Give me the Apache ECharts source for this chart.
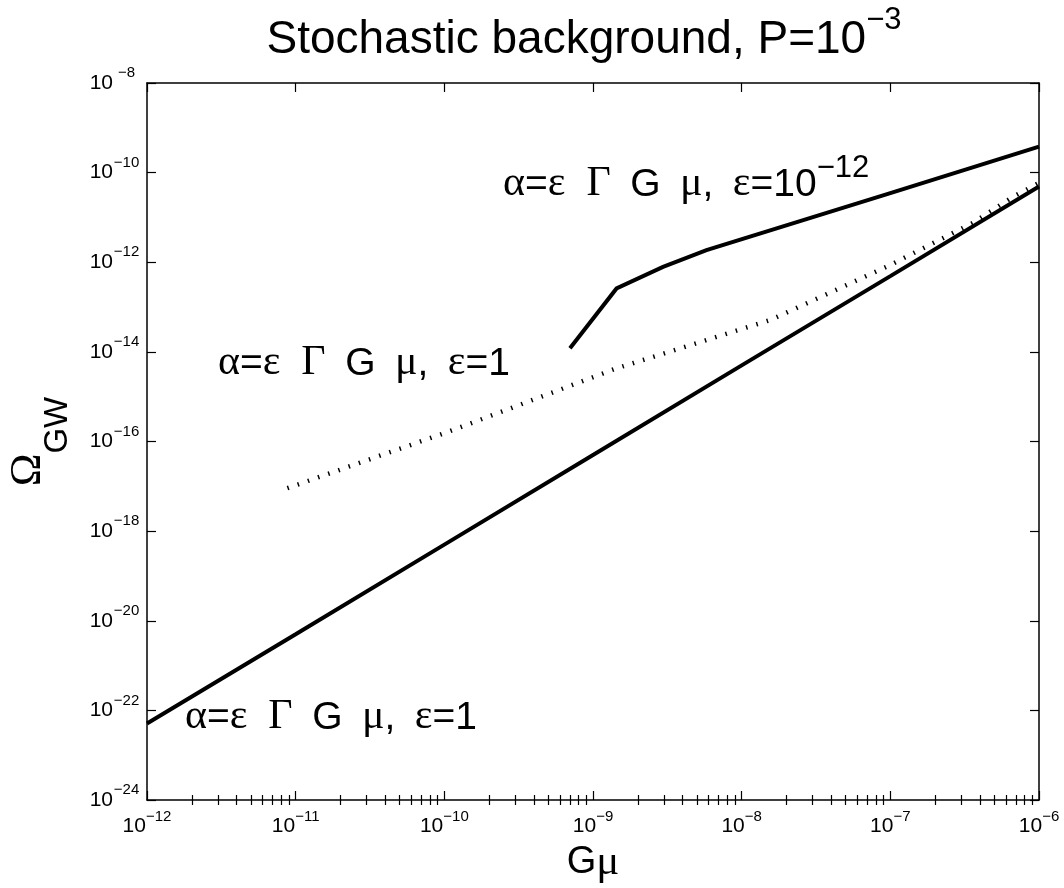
<!DOCTYPE html>
<html><head><meta charset="utf-8">
<script src="https://cdn.jsdelivr.net/npm/echarts@6/dist/echarts.min.js"></script>
<style>html,body{margin:0;padding:0;background:#fff}#c{width:1064px;height:888px}</style>
</head><body><div id="c"></div>
<script>
// ---- tick exponents ----
const xTickExps = [-12, -11, -10, -9, -8, -7, -6];
const yTickExps = [-24, -22, -20, -18, -16, -14, -12, -10, -8];

// ---- series: alpha = eps Gamma G mu, eps = 1 (solid, lower) ----
const lowerGmu   = [1e-12, 1e-11, 1e-10, 1e-9, 1e-8, 1e-7, 1e-6];
const lowerOmega = [5.1e-23, 5.0e-21, 5.0e-19, 5.0e-17, 5.0e-15, 4.9e-13, 4.9e-11];

// ---- series: eps = 1e-12 (solid, upper) ----
const upperGmu   = [7.0e-10, 1.44e-9, 2.96e-9, 5.8e-9, 1e-7, 1e-6];
const upperOmega = [1.2e-14, 2.6e-13, 7.9e-13, 1.86e-12, 3.5e-11, 3.8e-10];

// ---- series: eps = 1 (dotted) ----
const dotGmu   = [8.8e-12, 1.09e-10, 1.44e-9, 1.55e-8, 1e-7, 3.6e-7, 6.7e-7, 1e-6];
const dotOmega = [9.1e-18, 1.7e-16, 4.3e-15, 5.1e-14, 8.7e-13, 7.6e-12, 2.9e-11, 5.9e-11];

// ---- annotations (left / bottom anchor in data space) ----
const annoText = ['eps12', 'eps1', 'eps1'];
const annoGmu = [2.48e-10, 3.0e-12, 1.8e-12];
const annoOmega = [1.94e-11, 1.96e-15, 2.45e-23];

const title = 'Stochastic background, P=10';
const titleExp = '\u22123';

function zip(a, b) { return a.map((v, i) => [v, b[i]]); }
const xMajor = xTickExps.map(e => Math.pow(10, e));
const yMajor = yTickExps.map(e => Math.pow(10, e));
const xMinor = [];
for (let e = -12; e < -6; e++) for (let k = 2; k <= 9; k++) xMinor.push(k * Math.pow(10, e));

const SANS = 'Liberation Sans', SERIF = 'Liberation Serif';
function expLabel(v) {
  const e = Math.round(Math.log10(v));
  return '{b|10}{s|' + (e < 0 ? '\u2212' : '') + Math.abs(e) + '}';
}
const tickRichY = {
  b: {fontFamily: SANS, fontSize: 21, lineHeight: 21, verticalAlign: 'bottom', color: '#000'},
  s: {fontFamily: SANS, fontSize: 15, lineHeight: 28, verticalAlign: 'top', color: '#000', width: 27, align: 'left'}
};
const tickRichX = {
  b: {fontFamily: SANS, fontSize: 21, lineHeight: 21, verticalAlign: 'bottom', color: '#000'},
  s: {fontFamily: SANS, fontSize: 15, lineHeight: 28, verticalAlign: 'top', color: '#000'}
};
const axisLine = {show: true, onZero: false, lineStyle: {color: '#000', width: 1.5}};
const majorTick = {show: true, inside: true, length: 9, lineStyle: {color: '#000', width: 1.2}};
const minorTickS = {show: true, inside: true, length: 5, lineStyle: {color: '#000', width: 1.2}};

const chart = echarts.init(document.getElementById('c'), null, {renderer: 'canvas'});
const base = {type: 'log', logBase: 10, splitLine: {show: false}, minorTick: {show: false}, nameMoveOverlap: false};
const xExt = {min: 1e-12, max: 1e-6};
const yExt = {min: 1e-24, max: 1e-8};

const option = {
  backgroundColor: '#fff',
  animation: false,
  grid: {left: 147, right: 25, top: 83, bottom: 88, containLabel: false, outerBoundsMode: 'none'},
  xAxis: [
    Object.assign({}, base, xExt, {position: 'bottom', axisLine,
      axisTick: Object.assign({customValues: xMajor}, majorTick),
      axisLabel: {customValues: xMajor, formatter: expLabel, rich: tickRichX, margin: 9},
      name: '{a|G}{g|\u03bc}', nameLocation: 'middle', nameGap: 45,
      nameTextStyle: {rich: {a: {fontFamily: SANS, fontSize: 38, lineHeight: 36, color: '#000'},
                             g: {fontFamily: SERIF, fontSize: 43, lineHeight: 36, color: '#000'}}}}),
    Object.assign({}, base, xExt, {position: 'bottom', axisLine: {show: false},
      axisTick: Object.assign({customValues: xMinor}, minorTickS), axisLabel: {show: false}}),
    Object.assign({}, base, xExt, {position: 'top', axisLine,
      axisTick: Object.assign({customValues: xMajor}, majorTick), axisLabel: {show: false}}),
    Object.assign({}, base, xExt, {position: 'top', axisLine: {show: false},
      axisTick: Object.assign({customValues: xMinor}, minorTickS), axisLabel: {show: false}})
  ],
  yAxis: [
    Object.assign({}, base, yExt, {position: 'left', axisLine,
      axisTick: Object.assign({customValues: yMajor}, majorTick),
      axisLabel: {customValues: yMajor, formatter: expLabel, rich: tickRichY, margin: 7, padding: [0, 0, 7, 0]},
      name: '{o|\u03a9}{s|GW}', nameLocation: 'middle', nameGap: 73,
      nameTextStyle: {rich: {o: {fontFamily: SERIF, fontSize: 44, lineHeight: 42, verticalAlign: 'top', color: '#000'},
                             s: {fontFamily: SANS, fontSize: 33, lineHeight: 68, verticalAlign: 'bottom', color: '#000'}}}}),
    Object.assign({}, base, yExt, {position: 'right', axisLine,
      axisTick: Object.assign({customValues: yMajor}, majorTick), axisLabel: {show: false}})
  ],
  series: [
    {type: 'line', data: zip(lowerGmu, lowerOmega), showSymbol: false, symbol: 'none',
     lineStyle: {color: '#000', width: 4}, silent: true},
    {type: 'line', data: zip(upperGmu, upperOmega), showSymbol: false, symbol: 'none',
     lineStyle: {color: '#000', width: 4, join: 'miter'}, silent: true},
    {type: 'line', data: zip(dotGmu, dotOmega), showSymbol: false, symbol: 'none',
     lineStyle: {color: '#000', width: 4.5, type: [1.5, 9.3], cap: 'butt'}, silent: true}
  ]
};
chart.setOption(option);

const SP = '\u2002';
const annoRich = {
  s: {fontFamily: SANS, fontSize: 39, lineHeight: 37, verticalAlign: 'bottom', color: '#000'},
  g: {fontFamily: SERIF, fontSize: 42, lineHeight: 37, verticalAlign: 'bottom', color: '#000'},
  p: {fontFamily: SANS, fontSize: 31, lineHeight: 52, verticalAlign: 'top', color: '#000'}
};
const annoStr = {
  eps1: '{g|\u03b1}{s|=}{g|\u03b5' + SP + '\u0393}{s|' + SP + 'G' + SP + '}{g|\u03bc}{s|,' + SP + '}{g|\u03b5}{s|=1}',
  eps12: '{g|\u03b1}{s|=}{g|\u03b5' + SP + '\u0393}{s|' + SP + 'G' + SP + '}{g|\u03bc}{s|,' + SP + '}{g|\u03b5}{s|=10}{p|\u221212}'
};
const graphics = annoText.map((k, i) => {
  const p = chart.convertToPixel({xAxisIndex: 0, yAxisIndex: 0}, [annoGmu[i], annoOmega[i]]);
  return {type: 'text', x: p[0], y: p[1], silent: true,
          style: {text: annoStr[k], rich: annoRich, align: 'left', verticalAlign: 'bottom'}};
});
graphics.push({type: 'text', x: 584, y: 63, silent: true,
  style: {text: '{b|' + title + '}{s|' + titleExp + '}', align: 'center', verticalAlign: 'bottom',
    rich: {b: {fontFamily: SANS, fontSize: 46, lineHeight: 45, verticalAlign: 'bottom', color: '#000'},
           s: {fontFamily: SANS, fontSize: 31, lineHeight: 58, verticalAlign: 'top', color: '#000'}}}});
chart.setOption({graphic: graphics});
</script>
</body></html>
